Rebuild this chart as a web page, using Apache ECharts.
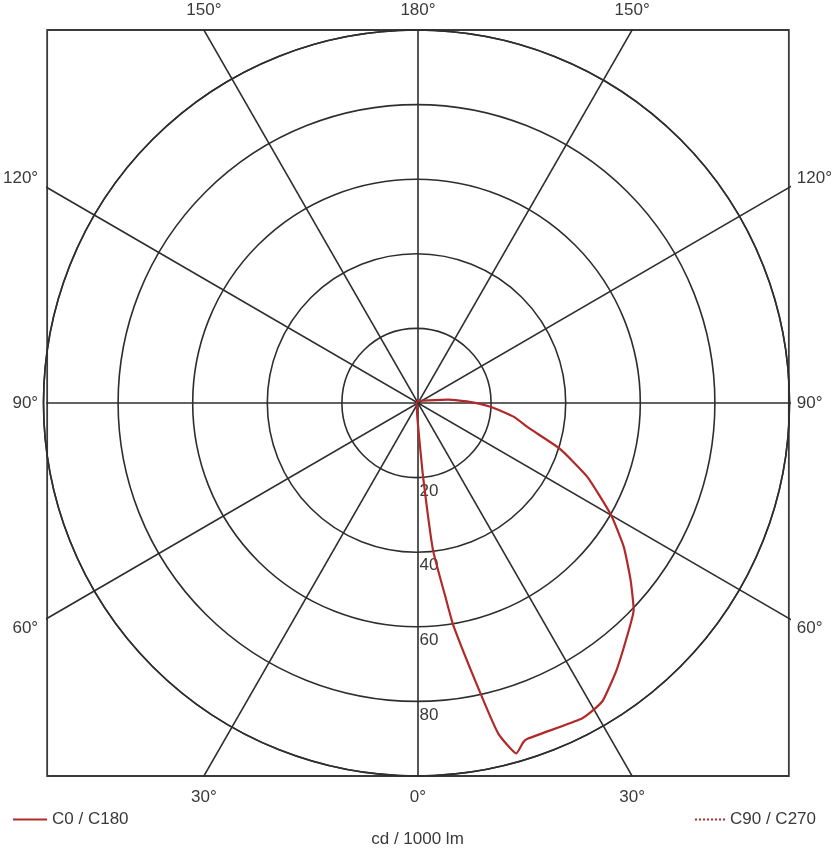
<!DOCTYPE html>
<html><head><meta charset="utf-8">
<script src="https://cdn.jsdelivr.net/npm/echarts@6/dist/echarts.min.js"></script>
<style>html,body{margin:0;padding:0;background:#fff}#c{width:835px;height:848px}</style>
</head><body><div id="c"></div>
<script>
// ---- data ----
const ringValues = [20, 40, 60, 80, 100];
const spokeAngles = [0, 30, 60, 90, 120, 150];
const bottomTickLabels = ['30°', '0°', '30°'];
const topTickLabels = ['150°', '180°', '150°'];
const sideTickLabels = ['60°', '90°', '120°'];
const unitLabel = 'cd / 1000 lm';
const seriesNames = ['C0 / C180', 'C90 / C270'];
// C0 / C180 curve: angle (deg, 0 = straight down) and intensity (cd/1000 lm)
const c0Angles = [0, 3.5, 4.3, 5.1, 6.4, 8.6, 9.4, 12.5, 13.9, 15.9, 17.5, 18.4, 27.6, 29.9, 32.1, 36.8, 43.6, 46.4, 50.4, 55.2, 60, 66.6, 72.3, 77.5, 81.9, 87, 91, 96, 103, 120, 150, 180];
const c0Values = [0, 4, 8.2, 19.9, 39.7, 53.5, 60.4, 80.3, 91.3, 97.7, 95.3, 94.8, 95.5, 95.0, 94.1, 89.5, 82.9, 80.4, 74.5, 67.7, 60.3, 49.9, 40.3, 30.8, 26.4, 20.1, 14.7, 8.5, 3.2, 1.2, 0.5, 0];
// C90 / C270: no visible curve in the reference
const c90Angles = [];
const c90Values = [];

// ---- chart ----
const FONT = 'Liberation Sans, Arial, sans-serif';
const TXT = '#3a3a3a';
const GRID_C = '#2e2e2e';
const RED = '#b02a2a';
const LW = 1.6;
const chart = echarts.init(document.getElementById('c'), null, {renderer: 'canvas'});

const L = 150;
const rad = d => d * Math.PI / 180;
const spokeSeries = spokeAngles.map(a => ({
  type: 'line', xAxisIndex: 0, yAxisIndex: 0, silent: true, symbol: 'none', clip: true,
  lineStyle: {color: GRID_C, width: LW},
  data: [[L * Math.sin(rad(a)), -L * Math.cos(rad(a))], [-L * Math.sin(rad(a)), L * Math.cos(rad(a))]],
  z: 2
}));

const edgeX = 100 * Math.tan(rad(30));
const sideY = 60.3;

function pick(labels, v) { return v < -1 ? labels[0] : (v > 1 ? labels[2] : labels[1]); }

const axisCommon = {
  type: 'value', min: -100, max: 100,
  axisLine: {show: false}, axisTick: {show: false}, splitLine: {show: false}
};
const labelCommon = {fontSize: 17, color: TXT, fontFamily: FONT};

chart.setOption({
  backgroundColor: '#fff',
  animation: false,
  title: {text: unitLabel, left: 'center', top: 826, textStyle: {fontSize: 17, fontWeight: 'normal', color: TXT, fontFamily: FONT}},
  legend: [
    {data: [seriesNames[0]], left: 7, top: 806, itemWidth: 34, itemHeight: 12, itemStyle: {opacity: 0}, textStyle: labelCommon},
    {data: [seriesNames[1]], right: 14, top: 806, itemWidth: 30, itemHeight: 12, itemStyle: {opacity: 0}, textStyle: labelCommon}
  ],
  grid: {left: 43, top: 30, width: 747, height: 746, show: true, borderColor: '#3a3a3a', borderWidth: 1.8, backgroundColor: 'transparent'},
  xAxis: [
    Object.assign({}, axisCommon, {position: 'bottom', axisLabel: Object.assign({}, labelCommon, {margin: 13, customValues: [-edgeX, 0, edgeX], formatter: v => pick(bottomTickLabels, v)})}),
    Object.assign({}, axisCommon, {position: 'top', axisLabel: Object.assign({}, labelCommon, {margin: 11, customValues: [-edgeX, 0, edgeX], formatter: v => pick(topTickLabels, v)})})
  ],
  yAxis: [
    Object.assign({}, axisCommon, {position: 'left', axisLabel: Object.assign({}, labelCommon, {margin: 9, customValues: [-sideY, 0, sideY], formatter: v => pick(sideTickLabels, v)})}),
    Object.assign({}, axisCommon, {position: 'right', axisLabel: Object.assign({}, labelCommon, {margin: 8, customValues: [-sideY, 0, sideY], formatter: v => pick(sideTickLabels, v)})})
  ],
  polar: {center: [416.5, 403], radius: 373},
  angleAxis: {
    type: 'value', min: 0, max: 360, startAngle: 270, clockwise: false,
    axisLine: {show: true, lineStyle: {color: GRID_C, width: LW}},
    axisTick: {show: false}, axisLabel: {show: false}, splitLine: {show: false}
  },
  radiusAxis: {
    type: 'value', min: 0, max: ringValues[ringValues.length - 1], interval: ringValues[0],
    axisLine: {show: false}, axisTick: {show: false},
    splitLine: {show: true, lineStyle: {color: GRID_C, width: LW}},
    axisLabel: Object.assign({}, labelCommon, {showMinLabel: false, showMaxLabel: false, align: 'left', verticalAlign: 'top', margin: 3, padding: [5, 0, 0, 0]}),
    z: 5
  },
  series: spokeSeries.concat([
    {
      name: seriesNames[0], type: 'line', coordinateSystem: 'polar', symbol: 'none', silent: true,
      smooth: 0.15,
      lineStyle: {color: RED, width: 2.2}, itemStyle: {color: RED},
      data: c0Angles.map((a, i) => [c0Values[i], a]), z: 10
    },
    {
      name: seriesNames[1], type: 'line', coordinateSystem: 'polar', symbol: 'none', silent: true,
      lineStyle: {color: RED, width: 2, type: 'dotted'}, itemStyle: {color: RED},
      data: c90Angles.map((a, i) => [c90Values[i], a]), z: 10
    }
  ])
});
</script></body></html>
